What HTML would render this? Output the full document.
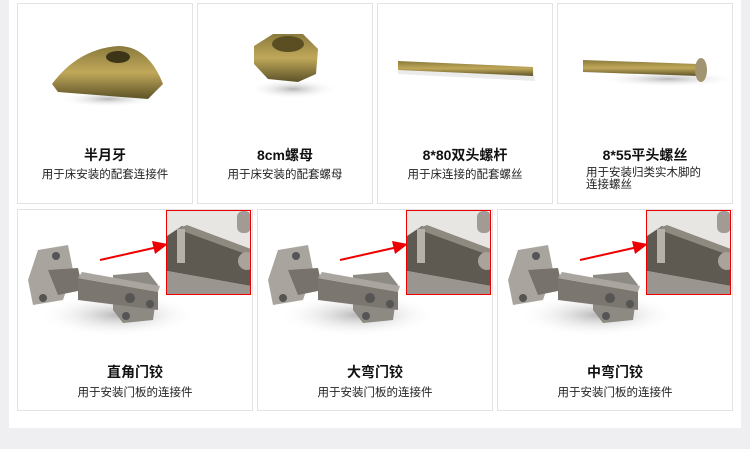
<!DOCTYPE html>
<html><head><meta charset="utf-8"><style>
*{margin:0;padding:0;box-sizing:border-box}
body{width:750px;height:449px;background:#efeff1;position:relative;overflow:hidden;font-family:"Liberation Sans","Noto Sans CJK SC",sans-serif}
#panel{position:absolute;left:9px;top:0;width:732px;height:428px;background:#fff}
.c{position:absolute;border:1px solid #e3e3e3;background:#fff;overflow:hidden}
.t{position:absolute;left:0;right:0;text-align:center;font-weight:bold;font-size:14px;color:#111}
.s{position:absolute;left:0;right:0;text-align:center;font-size:11.5px;color:#222}
svg{position:absolute;left:0;top:0}
.ins{position:absolute;border:1px solid #e00;background:#e8e6e2;overflow:hidden;width:85px;height:85px;top:210px}
</style></head><body>
<div id="panel"></div>
<svg width="0" height="0" style="position:absolute"><defs>
<linearGradient id="br" x1="0" y1="0" x2="0" y2="1"><stop offset="0" stop-color="#8a7a3c"/><stop offset=".5" stop-color="#c0a85a"/><stop offset="1" stop-color="#5d5228"/></linearGradient>
<radialGradient id="sh"><stop offset="0" stop-color="#888" stop-opacity=".6"/><stop offset="1" stop-color="#fff" stop-opacity="0"/></radialGradient>
<g id="hinge">
<ellipse cx="100" cy="95" rx="80" ry="22" fill="url(#sh)"/>
<polygon points="20,30 50,25 55,50 45,80 15,85 10,60" fill="#a9a59e"/>
<circle cx="38" cy="36" r="4" fill="#555"/><circle cx="25" cy="78" r="4" fill="#555"/>
<polygon points="30,50 60,48 65,70 40,75" fill="#77736c"/>
<polygon points="95,55 130,52 140,65 135,100 105,103 95,90" fill="#8d8a83"/>
<polygon points="60,58 140,72 140,90 60,80" fill="#7b7770"/>
<polygon points="60,58 140,72 142,66 64,52" fill="#aaa69f"/>
<circle cx="112" cy="78" r="5" fill="#555"/><circle cx="132" cy="84" r="4" fill="#555"/>
<circle cx="108" cy="96" r="4" fill="#555"/>
</g>
<g id="zoomin">
<rect width="84" height="84" fill="#e8e6e2"/>
<polygon points="0,25 15,15 84,40 84,75 0,60" fill="#5e5a52"/>
<polygon points="10,18 20,14 84,38 84,45" fill="#8f8a80"/>
<polygon points="0,60 84,75 84,84 0,84" fill="#9a968f"/>
<rect x="10" y="18" width="8" height="34" fill="#b5b1aa"/>
<circle cx="80" cy="50" r="9" fill="#a8a49c"/>
<rect x="70" y="0" width="14" height="22" rx="6" fill="#a09c95"/>
</g>
</defs></svg>

<!-- top row -->
<div class="c" style="left:17px;top:3px;width:176px;height:201px">
<svg width="176" height="140"><ellipse cx="90" cy="95" rx="50" ry="8" fill="url(#sh)"/><path d="M34 80 Q60 45 100 42 Q130 42 145 80 L130 95 L40 88 Z" fill="url(#br)"/><ellipse cx="100" cy="53" rx="12" ry="6" fill="#3d3518"/></svg>
<div class="t" style="top:141px">半月牙</div><div class="s" style="top:162px">用于床安装的配套连接件</div></div>
<div class="c" style="left:197px;top:3px;width:176px;height:201px">
<svg width="176" height="140"><ellipse cx="95" cy="85" rx="45" ry="10" fill="url(#sh)"/><polygon points="56,42 75,30 105,30 120,45 118,70 100,78 70,75 56,60" fill="url(#br)"/><ellipse cx="90" cy="40" rx="16" ry="8" fill="#5a4e22"/></svg>
<div class="t" style="top:141px">8cm螺母</div><div class="s" style="top:162px">用于床安装的配套螺母</div></div>
<div class="c" style="left:377px;top:3px;width:176px;height:201px">
<svg width="176" height="140"><polygon points="20,59 155,65 157,77 20,70" fill="#ddd" opacity=".6"/><polygon points="20,57 155,63 155,72 20,66" fill="url(#br)"/></svg>
<div class="t" style="top:141px">8*80双头螺杆</div><div class="s" style="top:162px">用于床连接的配套螺丝</div></div>
<div class="c" style="left:557px;top:3px;width:176px;height:201px">
<svg width="176" height="140"><ellipse cx="110" cy="75" rx="70" ry="8" fill="url(#sh)"/><polygon points="25,56 140,60 140,72 25,68" fill="url(#br)"/><ellipse cx="143" cy="66" rx="6" ry="12" fill="#a09570"/></svg>
<div class="t" style="top:141px">8*55平头螺丝</div><div class="s" style="top:163px;left:28px;text-align:left;line-height:12px">用于安装归类实木脚的<br>连接螺丝</div></div>

<!-- bottom row -->
<div class="c" style="left:17px;top:209px;width:236px;height:202px">
<svg width="236" height="140"><use href="#hinge" transform="translate(0,10)"/><line x1="82" y1="50" x2="140" y2="37" stroke="#e00" stroke-width="2"/><polygon points="150,34 134,31 137,44" fill="#e00"/></svg>
<div class="t" style="top:152px">直角门铰</div><div class="s" style="top:174px">用于安装门板的连接件</div></div>
<div class="c" style="left:257px;top:209px;width:236px;height:202px">
<svg width="236" height="140"><use href="#hinge" transform="translate(0,10)"/><line x1="82" y1="50" x2="140" y2="37" stroke="#e00" stroke-width="2"/><polygon points="150,34 134,31 137,44" fill="#e00"/></svg>
<div class="t" style="top:152px">大弯门铰</div><div class="s" style="top:174px">用于安装门板的连接件</div></div>
<div class="c" style="left:497px;top:209px;width:236px;height:202px">
<svg width="236" height="140"><use href="#hinge" transform="translate(0,10)"/><line x1="82" y1="50" x2="140" y2="37" stroke="#e00" stroke-width="2"/><polygon points="150,34 134,31 137,44" fill="#e00"/></svg>
<div class="t" style="top:152px">中弯门铰</div><div class="s" style="top:174px">用于安装门板的连接件</div></div>

<div class="ins" style="left:166px"><svg width="84" height="84"><use href="#zoomin"/></svg></div>
<div class="ins" style="left:406px"><svg width="84" height="84"><use href="#zoomin"/></svg></div>
<div class="ins" style="left:646px"><svg width="84" height="84"><use href="#zoomin"/></svg></div>
</body></html>
